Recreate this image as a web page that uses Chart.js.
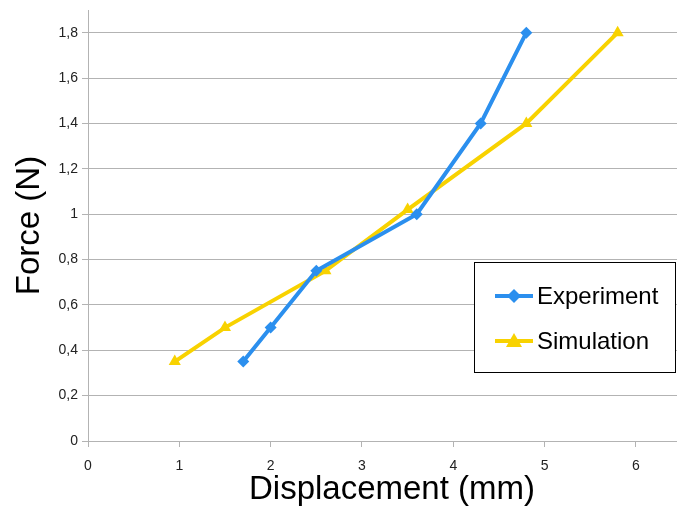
<!DOCTYPE html>
<html>
<head>
<meta charset="utf-8">
<script src="https://cdn.jsdelivr.net/npm/chart.js@4"></script>
<style>
  html, body { margin: 0; padding: 0; background: #fff; }
  #wrap { width: 677px; height: 508px; }
</style>
</head>
<body>
<div id="wrap"><canvas id="grafica" width="677" height="508"></canvas></div>
<script>
// valores
var expX = [1.7, 2.0, 2.5, 3.6, 4.3, 4.8];
var expY = [0.35, 0.5, 0.75, 1.0, 1.4, 1.8];
var simX = [0.95, 1.5, 2.6, 3.5, 4.8, 5.8];
var simY = [0.35, 0.5, 0.75, 1.02, 1.4, 1.8];

var azul = '#2b8fee';
var amarillo = '#f8d200';
var fuente = '"Liberation Sans", Arial, sans-serif';

function puntos(xs, ys) {
    var d = [];
    for (var i = 0; i < xs.length; i++) {
        d.push({x: xs[i], y: ys[i]});
    }
    return d;
}

function coma(v) {
    return String(Math.round(v * 10) / 10).replace('.', ',');
}

var experimento = {
    label: 'Experiment',
    data: puntos(expX, expY),
    borderColor: azul,
    backgroundColor: azul,
    borderWidth: 4,
    pointStyle: 'rectRot',
    pointRadius: 6,
    pointBorderWidth: 0,
    order: 1
};

var simulacion = {
    label: 'Simulation',
    data: puntos(simX, simY),
    borderColor: amarillo,
    backgroundColor: amarillo,
    borderWidth: 4,
    pointStyle: 'triangle',
    pointRadius: 7,
    pointBorderWidth: 0,
    order: 2
};

// titulo del eje x y leyenda dibujados a mano, como en la original
var extras = {
    id: 'extras',
    afterDraw: function(chart) {
        var ctx = chart.ctx;
        ctx.save();
        ctx.fillStyle = '#000';
        ctx.font = '33px ' + fuente;
        ctx.textAlign = 'center';
        ctx.textBaseline = 'middle';
        ctx.fillText('Displacement (mm)', 392, 490);

        var x0 = 474, y0 = 262, w = 201, h = 110;
        ctx.fillStyle = '#fff';
        ctx.fillRect(x0, y0, w, h);
        ctx.strokeStyle = '#000';
        ctx.lineWidth = 1;
        ctx.strokeRect(x0 + 0.5, y0 + 0.5, w, h);
        var sets = [experimento, simulacion];
        var ys = [296, 341];
        for (var i = 0; i < sets.length; i++) {
            var ds = sets[i];
            ctx.strokeStyle = ds.borderColor;
            ctx.lineWidth = 4;
            ctx.beginPath();
            ctx.moveTo(495, ys[i]);
            ctx.lineTo(533, ys[i]);
            ctx.stroke();
            ctx.fillStyle = ds.backgroundColor;
            ctx.beginPath();
            if (ds.pointStyle === 'rectRot') {
                ctx.moveTo(514, ys[i] - 7);
                ctx.lineTo(521, ys[i]);
                ctx.lineTo(514, ys[i] + 7);
                ctx.lineTo(507, ys[i]);
            } else {
                ctx.moveTo(514, ys[i] - 8);
                ctx.lineTo(522, ys[i] + 6);
                ctx.lineTo(506, ys[i] + 6);
            }
            ctx.closePath();
            ctx.fill();
            ctx.fillStyle = '#000';
            ctx.font = '24px ' + fuente;
            ctx.textAlign = 'left';
            ctx.textBaseline = 'middle';
            ctx.fillText(ds.label, 537, ys[i] + 1);
        }
        ctx.restore();
    }
};

var config = {
    type: 'line',
    data: { datasets: [experimento, simulacion] },
    options: {
        responsive: false,
        animation: false,
        layout: { autoPadding: false, padding: { top: 10, right: 0, left: 0, bottom: 0 } },
        plugins: {
            legend: { display: false },
            tooltip: { enabled: false }
        },
        scales: {
            x: {
                type: 'linear',
                min: 0,
                max: 6.45,
                afterFit: function(s) {
                    s.height = 67;
                    s.paddingRight = 0;
                    s.paddingLeft = 0;
                },
                ticks: {
                    stepSize: 1,
                    includeBounds: false,
                    padding: 11,
                    color: '#222',
                    font: { family: fuente, size: 14 },
                    maxRotation: 0
                },
                grid: {
                    display: true,
                    drawOnChartArea: false,
                    drawTicks: true,
                    tickLength: 6,
                    color: '#b3b3b3'
                },
                border: { color: '#b3b3b3' }
            },
            y: {
                type: 'linear',
                min: 0,
                max: 1.9,
                afterFit: function(s) {
                    s.width = 88;
                    s.paddingTop = 0;
                    s.paddingBottom = 0;
                },
                ticks: {
                    stepSize: 0.2,
                    includeBounds: false,
                    padding: 4,
                    color: '#222',
                    font: { family: fuente, size: 14 },
                    callback: function(v) { return coma(v); }
                },
                grid: {
                    color: '#b3b3b3',
                    tickLength: 6
                },
                border: { color: '#b3b3b3' },
                title: {
                    display: true,
                    text: 'Force (N)',
                    color: '#000',
                    font: { family: fuente, size: 33, lineHeight: 1.2 },
                    padding: { top: 10, bottom: 0 }
                }
            }
        }
    },
    plugins: [extras]
};

var grafica = new Chart(document.getElementById('grafica'), config);
</script>
</body>
</html>
